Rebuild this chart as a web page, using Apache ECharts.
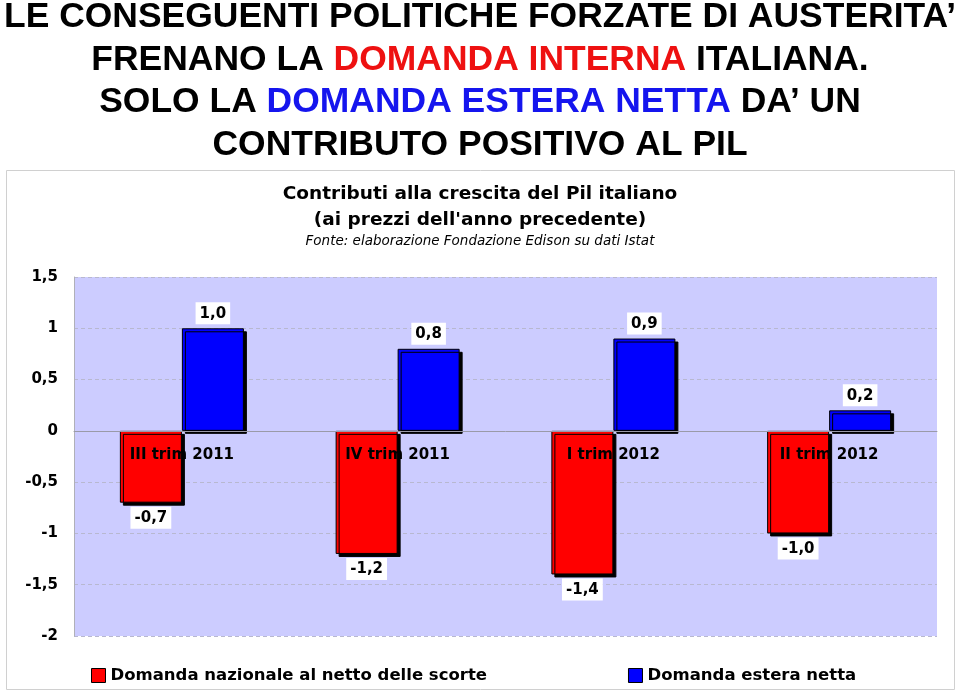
<!DOCTYPE html>
<html>
<head>
<meta charset="utf-8">
<script src="https://cdn.jsdelivr.net/npm/echarts@6/dist/echarts.min.js"></script>
<style>
  html, body { margin: 0; padding: 0; background: #fff; }
  #main { width: 960px; height: 692px; }
</style>
</head>
<body>
<div id="main"></div>
<script>
var categories = ['III trim 2011', 'IV trim 2011', 'I trim 2012', 'II trim 2012'];
var domandaNazionale = [-0.7, -1.2, -1.4, -1.0];
var domandaEstera = [1.0, 0.8, 0.9, 0.2];
var seriesNames = ['Domanda nazionale al netto delle scorte', 'Domanda estera netta'];

var headLines = [
  'LE CONSEGUENTI POLITICHE FORZATE DI AUSTERITA’',
  'FRENANO LA {r|DOMANDA INTERNA} ITALIANA.',
  'SOLO LA {b|DOMANDA ESTERA NETTA} DA’ UN',
  'CONTRIBUTO POSITIVO AL PIL'
];
var headY = [17.5, 60.5, 102.5, 145.5];

var chart = echarts.init(document.getElementById('main'), null, { renderer: 'canvas' });

var headFont = 'Liberation Sans, Arial, sans-serif';
var labelFont = 'DejaVu Sans, Verdana, sans-serif';
var headSize = 35;

// squeeze the headline horizontally so the first line fills the width, like a narrow face
var ctx = document.createElement('canvas').getContext('2d');
ctx.font = 'bold ' + headSize + 'px "Liberation Sans", Arial, sans-serif';
var headScale = 952 / ctx.measureText(headLines[0]).width;

function comma(v, digits) {
  return (digits != null ? v.toFixed(digits) : String(v)).replace('.', ',');
}

var barLabel = {
  show: true,
  fontFamily: labelFont,
  fontWeight: 'bold',
  fontSize: 15,
  color: '#000',
  backgroundColor: '#fff',
  padding: [4, 4, 3, 4],
  distance: 4,
  formatter: function (p) { return comma(p.value, 1); }
};

var barItem = function (color) {
  return {
    color: color,
    borderColor: '#000',
    borderWidth: 1,
    shadowColor: '#000',
    shadowOffsetX: 3,
    shadowOffsetY: 3,
    shadowBlur: 0
  };
};

var graphics = [{
  type: 'rect',
  shape: { x: 6.5, y: 170.5, width: 948, height: 519 },
  style: { fill: 'none', stroke: '#d0d0d0', lineWidth: 1 },
  z: -1
}];
headLines.forEach(function (t, i) {
  graphics.push({
    type: 'text',
    x: 480,
    y: headY[i],
    scaleX: headScale,
    style: {
      text: t,
      align: 'center',
      verticalAlign: 'middle',
      fontFamily: headFont,
      fontWeight: 'bold',
      fontSize: headSize,
      fill: '#000',
      rich: {
        r: { fill: '#ee1111', fontFamily: headFont, fontWeight: 'bold', fontSize: headSize },
        b: { fill: '#1515ee', fontFamily: headFont, fontWeight: 'bold', fontSize: headSize }
      }
    }
  });
});

var option = {
  backgroundColor: '#fff',
  animation: false,
  title: [{
    left: 'center',
    top: 176,
    text: 'Contributi alla crescita del Pil italiano\n(ai prezzi dell\'anno precedente)',
    textStyle: {
      fontFamily: labelFont,
      fontWeight: 'bold',
      fontSize: 18.5,
      lineHeight: 26,
      align: 'center',
      color: '#000'
    }
  }, {
    left: 'center',
    top: 229,
    text: 'Fonte: elaborazione Fondazione Edison su dati Istat',
    textStyle: {
      fontFamily: labelFont,
      fontStyle: 'italic',
      fontWeight: 'normal',
      fontSize: 13.5,
      color: '#000'
    }
  }],
  graphic: graphics,
  legend: {
    left: 86,
    top: 662,
    itemWidth: 14,
    itemHeight: 14,
    itemGap: 141,
    icon: 'rect',
    textStyle: {
      fontFamily: labelFont,
      fontWeight: 'bold',
      fontSize: 16.5,
      color: '#000'
    },
    itemStyle: { borderColor: '#000', borderWidth: 1 },
    data: seriesNames
  },
  grid: {
    left: 74,
    right: 23,
    top: 277,
    bottom: 56,
    show: true,
    backgroundColor: '#ccccff',
    borderWidth: 0,
    containLabel: false
  },
  xAxis: {
    type: 'category',
    data: categories,
    z: 10,
    offset: -205,
    axisLine: { onZero: false, lineStyle: { color: '#9a9aa8', width: 1 } },
    axisTick: { show: false },
    axisLabel: {
      margin: 17,
      fontFamily: labelFont,
      fontWeight: 'bold',
      fontSize: 15,
      color: '#000',
      interval: 0
    },
    splitLine: { show: false }
  },
  yAxis: {
    type: 'value',
    min: -2,
    max: 1.5,
    interval: 0.5,
    axisLine: { show: true, lineStyle: { color: '#b0b0b8' } },
    axisTick: { show: false },
    axisLabel: {
      margin: 16,
      fontFamily: labelFont,
      fontWeight: 'bold',
      fontSize: 15,
      color: '#000',
      formatter: function (v) { return comma(Math.round(v * 10) / 10); }
    },
    splitLine: { show: true, lineStyle: { color: '#b8b8d0', type: [4, 3], width: 1 } }
  },
  series: [{
    name: seriesNames[0],
    type: 'bar',
    data: domandaNazionale,
    barWidth: 62,
    barGap: '0%',
    itemStyle: barItem('#ff0000'),
    label: Object.assign({}, barLabel, { position: 'bottom' })
  }, {
    name: seriesNames[1],
    type: 'bar',
    data: domandaEstera,
    barWidth: 62,
    barGap: '0%',
    itemStyle: barItem('#0000ff'),
    label: Object.assign({}, barLabel, { position: 'top' })
  }]
};

chart.setOption(option);
</script>
</body>
</html>
